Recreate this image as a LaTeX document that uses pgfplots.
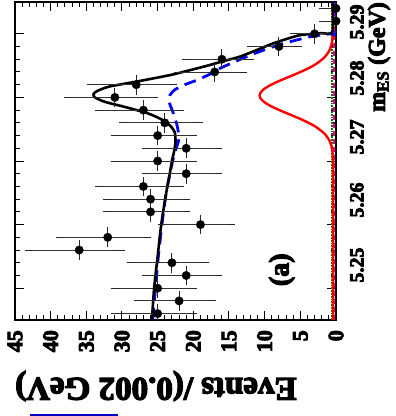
\documentclass[border=0pt]{standalone}
\usepackage{fontspec}
\setmainfont{Liberation Serif}[BoldFeatures={FakeBold=4}]
\usepackage{pgfplots}
\pgfplotsset{compat=1.18}
\usepackage{pgfplotstable}

\pgfplotstableread{
m n ep em dm
5.246 25 6.07 4.97 0.001
5.248 22 5.76 4.65 0.001
5.250 25 6.07 4.97 0.001
5.252 21 5.66 4.55 0.001
5.254 23 5.86 4.76 0.001
5.256 36 7.07 5.97 0.001
5.258 32 6.72 5.63 0.001
5.260 19 5.44 4.32 0.001
5.262 26 6.16 5.07 0.001
5.264 26 6.16 5.07 0.001
5.266 27 6.26 5.16 0.001
5.268 21 5.66 4.55 0.001
5.270 25 6.07 4.97 0.001
5.272 21 5.66 4.55 0.001
5.274 25 6.07 4.97 0.001
5.276 24 5.97 4.86 0.001
5.278 27 6.26 5.16 0.001
5.280 31 6.63 5.54 0.001
5.282 28 6.36 5.26 0.001
5.284 17 5.20 4.08 0.001
5.286 16 5.08 3.96 0.001
5.288 8 3.95 2.77 0.001
5.290 3 2.92 1.63 0.001
5.292 0 1.84 0 0.001
5.294 0 1.84 0 0.001
}\datapts

\pgfplotstableread{
m n
5.2450 25.8
5.2500 25.5
5.2550 25.0
5.2600 24.5
5.2650 23.8
5.2680 23.3
5.2700 23.0
5.2715 22.7
5.2730 22.5
5.2745 22.6
5.2755 23.2
5.2765 24.4
5.2775 26.4
5.2785 29.6
5.2793 32.4
5.2800 33.8
5.2805 34.0
5.2810 33.5
5.2817 31.8
5.2825 27.9
5.2835 23.3
5.2843 20.4
5.2850 18.0
5.2857 15.8
5.2864 13.5
5.2875 11.0
5.2885 8.8
5.2893 6.6
5.2898 5.0
5.2901 2.2
5.2903 0.5
5.2950 0.5
}\total

\pgfplotstableread{
m n
5.2450 25.7
5.2500 25.3
5.2550 24.9
5.2600 24.4
5.2650 23.8
5.2700 22.9
5.2720 22.4
5.2736 22.0
5.2757 22.3
5.2775 22.8
5.2793 23.4
5.2803 23.3
5.2812 22.6
5.2820 21.2
5.2828 19.3
5.2837 17.6
5.2846 16.2
5.2859 13.6
5.2870 11.2
5.2882 8.2
5.2890 5.6
5.2895 3.8
5.2898 2.2
5.2900 0.8
5.2902 0
5.2950 0
}\bkg

\pgfplotstableread{
m n
5.2450 0.40
5.2693 0.40
5.2703 0.43
5.2713 0.48
5.2723 0.63
5.2733 0.96
5.2743 1.61
5.2753 2.73
5.2758 3.49
5.2763 4.38
5.2768 5.38
5.2773 6.44
5.2778 7.51
5.2783 8.53
5.2788 9.41
5.2793 10.10
5.2798 10.55
5.2803 10.70
5.2808 10.55
5.2813 10.10
5.2818 9.41
5.2823 8.53
5.2828 7.51
5.2833 6.44
5.2838 5.38
5.2843 4.38
5.2848 3.49
5.2853 2.73
5.2863 1.61
5.2873 0.96
5.2883 0.63
5.2893 0.48
5.2903 0.43
5.2950 0.40
}\sig

\pgfplotstableread{
m n
5.2450 0.55
5.2700 0.55
5.2900 0.55
5.2950 0.55
}\greenbk

\pgfplotstableread{
m n
5.2450 0.25
5.2700 0.25
5.2900 0.25
5.2950 0.25
}\magbk

\begin{document}
\begin{tikzpicture}
\path[use as bounding box] (-15pt,-96pt) rectangle (381pt,320pt);
\begin{axis}[
  at={(0pt,0pt)}, anchor=south west,
  scale only axis, width=321pt, height=318pt,
  xmin=0, xmax=45, x dir=reverse,
  ymin=5.245, ymax=5.295,
  xtick={0,5,10,15,20,25,30,35,40,45},
  xticklabels={\textbf{0},\textbf{5},\textbf{10},\textbf{15},\textbf{20},\textbf{25},\textbf{30},\textbf{35},\textbf{40},\textbf{45}},
  minor x tick num=4,
  ytick={5.25,5.26,5.27,5.28,5.29},
  yticklabels={},
  minor y tick num=4,
  tick align=inside,
  major tick length=9pt, minor tick length=5pt,
  every tick/.style={black, line width=1pt},
  axis line style={line width=1.6pt},
  xticklabel style={rotate=90, anchor=east, inner sep=0pt, font=\fontsize{22}{22}\selectfont\bfseries},
  xticklabel shift=10pt,
  scaled ticks=false,
  clip=true,
]
\addplot[green!45!black, line width=1.8pt, densely dotted] table[x=n,y=m]{\greenbk};
\addplot[magenta, line width=1.8pt, dash pattern=on 5pt off 3pt] table[x=n,y=m]{\magbk};
\addplot[red, line width=2.4pt, smooth, tension=0.4] table[x=n,y=m]{\sig};
\addplot[blue, line width=2.8pt, dash pattern=on 12pt off 7pt, smooth, tension=0.4] table[x=n,y=m]{\bkg};
\addplot[black, line width=2.6pt, smooth, tension=0.4] table[x=n,y=m]{\total};
\addplot[only marks, mark=*, mark size=4.2pt, black,
  error bars/.cd, x dir=both, x explicit, y dir=both, y explicit,
  error bar style={line width=0.9pt, black!80},
  error mark options={black!85, line width=0.9pt, mark size=3.5pt}]
  table[x=n, y=m, x error plus=ep, x error minus=em, y error=dm] {\datapts};
\node[rotate=90, font=\fontsize{28}{28}\selectfont\bfseries] at (axis cs:7.6,5.2529) {(a)};
\end{axis}
\begin{scope}[every node/.style={rotate=90, anchor=north, inner sep=0pt, font=\fontsize{20}{20}\selectfont\bfseries}]
\node at (335pt,298pt) {5.29};
\node at (335pt,242pt) {5.28};
\node at (335pt,183pt) {5.27};
\node at (335pt,120pt) {5.26};
\node at (335pt,55pt) {5.25};
\end{scope}
\node[rotate=180, anchor=east, inner sep=0pt, font=\fontsize{33}{33}\selectfont\bfseries] at (0pt,-66pt) {Events /(0.002 GeV)};
\node[rotate=90, anchor=east, inner sep=0pt, font=\fontsize{24}{24}\selectfont\bfseries] at (364pt,318pt) {m\textsubscript{ES} (GeV)};
\draw[blue!75!black, line width=1.2pt] (15pt,-95pt) -- (103pt,-95pt);
\end{tikzpicture}
\end{document}
